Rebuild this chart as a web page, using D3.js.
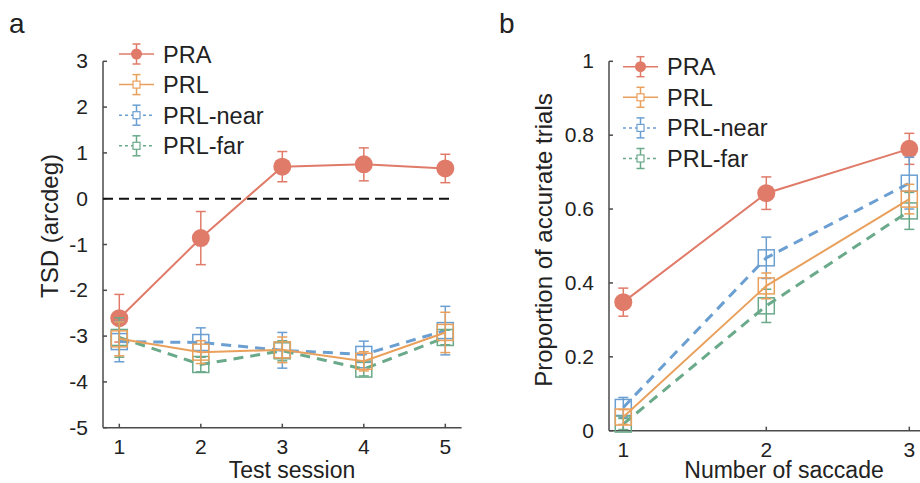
<!DOCTYPE html>
<html>
<head>
<meta charset="utf-8">
<script src="https://cdn.jsdelivr.net/npm/d3@7"></script>
<style>
  body { margin: 0; background: #fff; }
  svg { font-family: "Liberation Sans", Arial, sans-serif; }
</style>
</head>
<body>
<svg width="920" height="483"></svg>
<script>
// panel a: TSD by test session
const sessions = [1, 2, 3, 4, 5];
const aPRA = [-2.61, -0.86, 0.70, 0.75, 0.66];
const aPRAErr = [0.52, 0.58, 0.33, 0.36, 0.31];
const aPRL = [-3.06, -3.35, -3.30, -3.55, -2.92];
const aPRLErr = [0.37, 0.25, 0.28, 0.21, 0.44];
const aNear = [-3.12, -3.14, -3.31, -3.40, -2.88];
const aNearErr = [0.44, 0.32, 0.39, 0.29, 0.53];
const aFar = [-3.03, -3.62, -3.32, -3.72, -3.03];
const aFarErr = [0.43, 0.16, 0.22, 0.15, 0.16];
const aYTicks = [3, 2, 1, 0, -1, -2, -3, -4, -5];

// panel b: proportion accurate by number of saccades
const saccades = [1, 2, 3];
const bPRA = [0.348, 0.643, 0.763];
const bPRAErr = [0.038, 0.044, 0.042];
const bPRL = [0.037, 0.392, 0.627];
const bPRLErr = [0.02, 0.035, 0.04];
const bNear = [0.063, 0.468, 0.670];
const bNearErr = [0.027, 0.056, 0.07];
const bFar = [0.018, 0.338, 0.595];
const bFarErr = [0.015, 0.045, 0.05];
const bYTicks = [0, 0.2, 0.4, 0.6, 0.8, 1];

const names = ["PRA", "PRL", "PRL-near", "PRL-far"];
const colors = {"PRA": "#e07b69", "PRL": "#e9a05c", "PRL-near": "#6b9fd2", "PRL-far": "#6aa98a"};

const svg = d3.select("svg");
const axisColor = "#4a4a4a";
const textColor = "#222";

function series(name, xs, ys, es) {
  return { name: name, pts: xs.map((x, i) => ({ x: x, y: ys[i], e: es[i] })) };
}

function drawPanel(p) {
  const g = svg.append("g");
  const x = p.x, y = p.y;

  // axes
  g.append("line")
    .attr("x1", x.range()[0]).attr("x2", x.range()[1])
    .attr("y1", y.range()[0]).attr("y2", y.range()[0])
    .attr("stroke", axisColor).attr("stroke-width", 1.5);
  g.append("line")
    .attr("x1", x.range()[0]).attr("x2", x.range()[0])
    .attr("y1", y.range()[0]).attr("y2", y.range()[1])
    .attr("stroke", axisColor).attr("stroke-width", 1.5);

  p.yTicks.forEach(t => {
    g.append("line")
      .attr("x1", x.range()[0]).attr("x2", x.range()[0] + 4)
      .attr("y1", y(t)).attr("y2", y(t))
      .attr("stroke", axisColor).attr("stroke-width", 1.5);
    g.append("text")
      .attr("x", x.range()[0] - 15).attr("y", y(t) + 7)
      .attr("text-anchor", "end").attr("font-size", 21).attr("fill", textColor)
      .text(p.fmt(t));
  });
  p.xTicks.forEach(t => {
    g.append("line")
      .attr("x1", x(t)).attr("x2", x(t))
      .attr("y1", y.range()[0]).attr("y2", y.range()[0] - 4)
      .attr("stroke", axisColor).attr("stroke-width", 1.5);
    g.append("text")
      .attr("x", x(t)).attr("y", y.range()[0] + 26)
      .attr("text-anchor", "middle").attr("font-size", 21).attr("fill", textColor)
      .text(t);
  });

  // axis titles
  g.append("text")
    .attr("transform", `translate(${p.yLabelX},${p.yLabelY}) rotate(-90)`)
    .attr("text-anchor", "middle").attr("font-size", 24).attr("fill", textColor)
    .text(p.yLabel);
  g.append("text")
    .attr("x", p.xLabelX).attr("y", 477.5)
    .attr("text-anchor", "middle").attr("font-size", 23).attr("fill", textColor)
    .text(p.xLabel);

  // panel letter
  g.append("text")
    .attr("x", p.letterX).attr("y", 33)
    .attr("font-size", 28).attr("fill", textColor)
    .text(p.letter);

  if (p.zeroLine) {
    g.append("line")
      .attr("x1", x.range()[0]).attr("x2", x.range()[1] - 10)
      .attr("y1", y(0)).attr("y2", y(0))
      .attr("stroke", "#111").attr("stroke-width", 2)
      .attr("stroke-dasharray", "10,6");
  }

  const line = d3.line().x(d => x(d.x)).y(d => y(d.y));
  const order = ["PRA", "PRL-near", "PRL-far", "PRL"];
  order.forEach(name => {
    const s = p.data.find(d => d.name === name);
    const c = colors[name];
    const dashed = name === "PRL-near" || name === "PRL-far";
    g.append("path")
      .datum(s.pts)
      .attr("d", line)
      .attr("fill", "none").attr("stroke", c)
      .attr("stroke-width", dashed ? 3 : 2)
      .attr("stroke-dasharray", dashed ? "10,7" : null);

    const eb = g.append("g").attr("stroke", c).attr("stroke-width", 1.5);
    s.pts.forEach(d => {
      eb.append("line").attr("x1", x(d.x)).attr("x2", x(d.x))
        .attr("y1", y(d.y - d.e)).attr("y2", y(d.y + d.e));
      [d.y - d.e, d.y + d.e].forEach(v => {
        eb.append("line").attr("x1", x(d.x) - 5).attr("x2", x(d.x) + 5)
          .attr("y1", y(v)).attr("y2", y(v));
      });
    });

    if (name === "PRA") {
      g.selectAll(null).data(s.pts).enter().append("circle")
        .attr("cx", d => x(d.x)).attr("cy", d => y(d.y)).attr("r", 9)
        .attr("fill", c);
    } else {
      g.selectAll(null).data(s.pts).enter().append("rect")
        .attr("x", d => x(d.x) - 8).attr("y", d => y(d.y) - 8)
        .attr("width", 16).attr("height", 16)
        .attr("fill", "none").attr("stroke", c).attr("stroke-width", 1.5);
    }
  });

  // legend
  names.forEach((name, i) => {
    const c = colors[name];
    const cy = p.legY + i * 30.6;
    const lg = g.append("g");
    const dotted = name === "PRL-near" || name === "PRL-far";
    lg.append("line")
      .attr("x1", p.legX).attr("x2", p.legX + 35)
      .attr("y1", cy).attr("y2", cy)
      .attr("stroke", c).attr("stroke-width", 1.5)
      .attr("stroke-dasharray", dotted ? "3,3" : null);
    const mx = p.legX + 17.5;
    lg.append("line").attr("x1", mx).attr("x2", mx).attr("y1", cy - 10).attr("y2", cy + 10)
      .attr("stroke", c).attr("stroke-width", 1.5);
    [cy - 10, cy + 10].forEach(v => {
      lg.append("line").attr("x1", mx - 4).attr("x2", mx + 4).attr("y1", v).attr("y2", v)
        .attr("stroke", c).attr("stroke-width", 1.5);
    });
    if (name === "PRA") {
      lg.append("circle").attr("cx", mx).attr("cy", cy).attr("r", 5.5).attr("fill", c);
    } else {
      lg.append("rect").attr("x", mx - 3.5).attr("y", cy - 3.5).attr("width", 7).attr("height", 7)
        .attr("fill", "#fff").attr("stroke", c).attr("stroke-width", 1.2);
    }
    lg.append("text")
      .attr("x", p.legX + 44).attr("y", cy + 8.5)
      .attr("font-size", 23.5).attr("fill", textColor)
      .text(name);
  });
}

drawPanel({
  x: d3.scaleLinear().domain([0.8, 5.2]).range([103, 461.6]),
  y: d3.scaleLinear().domain([-5, 3]).range([427.7, 61.3]),
  xTicks: sessions,
  yTicks: aYTicks,
  fmt: d => d,
  data: [
    series("PRA", sessions, aPRA, aPRAErr),
    series("PRL", sessions, aPRL, aPRLErr),
    series("PRL-near", sessions, aNear, aNearErr),
    series("PRL-far", sessions, aFar, aFarErr)
  ],
  yLabel: "TSD (arcdeg)", yLabelX: 58, yLabelY: 226,
  xLabel: "Test session", xLabelX: 292,
  letter: "a", letterX: 9,
  zeroLine: true,
  legX: 119, legY: 54
});

drawPanel({
  x: d3.scaleLinear().domain([0.9, 3.1]).range([609, 923.6]),
  y: d3.scaleLinear().domain([0, 1]).range([430.7, 61.3]),
  xTicks: saccades,
  yTicks: bYTicks,
  fmt: d => d,
  data: [
    series("PRA", saccades, bPRA, bPRAErr),
    series("PRL", saccades, bPRL, bPRLErr),
    series("PRL-near", saccades, bNear, bNearErr),
    series("PRL-far", saccades, bFar, bFarErr)
  ],
  yLabel: "Proportion of accurate trials", yLabelX: 552, yLabelY: 240,
  xLabel: "Number of saccade", xLabelX: 784,
  letter: "b", letterX: 499,
  zeroLine: false,
  legX: 623, legY: 66.7
});
</script>
</body>
</html>
